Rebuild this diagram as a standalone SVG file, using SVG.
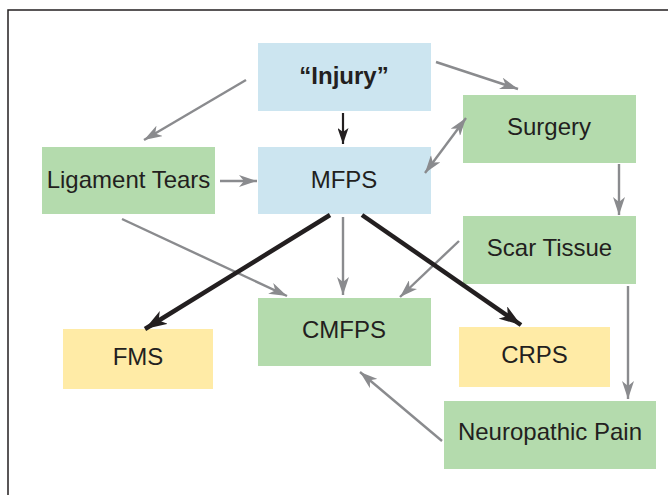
<svg xmlns="http://www.w3.org/2000/svg" width="668" height="495" viewBox="0 0 668 495">
<style>
.blue{fill:#cce5f0}
.green{fill:#b4dbad}
.yellow{fill:#ffeba6}
text{font-family:"Liberation Sans",Arial,sans-serif;font-size:24px;fill:#231f20;text-anchor:middle}
.g{stroke:#8a8b8e;stroke-width:2.4;fill:none}
.k{stroke:#231f20;stroke-width:2.2;fill:none}
.kk{stroke:#231f20;stroke-width:4.5;fill:none}
</style>
<defs>
<marker id="ag" viewBox="0 0 18 12" refX="18" refY="6" markerWidth="18" markerHeight="12" markerUnits="userSpaceOnUse" orient="auto-start-reverse">
<path d="M0,0 L18,6 L0,12 L5,6 Z" fill="#8a8b8e"/>
</marker>
<marker id="ak" viewBox="0 0 16 11" refX="16" refY="5.5" markerWidth="16" markerHeight="11" markerUnits="userSpaceOnUse" orient="auto">
<path d="M0,0 L16,5.5 L0,11 L4,5.5 Z" fill="#231f20"/>
</marker>
<marker id="akk" viewBox="0 0 22 15" refX="22" refY="7.5" markerWidth="22" markerHeight="15" markerUnits="userSpaceOnUse" orient="auto">
<path d="M0,0 L22,7.5 L0,15 L6,7.5 Z" fill="#231f20"/>
</marker>
</defs>
<rect x="8" y="10" width="700" height="520" fill="none" stroke="#231f20" stroke-width="1.5"/>
<g id="injury"><rect class="blue" x="258" y="43" width="173" height="68"/><text x="344" y="84" font-weight="bold">“Injury”</text></g>
<g id="surgery"><rect class="green" x="463" y="95" width="173" height="68"/><text x="549" y="135">Surgery</text></g>
<g id="ligament"><rect class="green" x="42" y="147" width="173" height="67"/><text x="128.5" y="188">Ligament Tears</text></g>
<g id="mfps"><rect class="blue" x="258" y="147" width="173" height="67"/><text x="344" y="188">MFPS</text></g>
<g id="scar"><rect class="green" x="463" y="216" width="173" height="68"/><text x="549.5" y="256">Scar Tissue</text></g>
<g id="cmfps"><rect class="green" x="258" y="298" width="173" height="68"/><text x="344" y="338">CMFPS</text></g>
<g id="fms"><rect class="yellow" x="63" y="329" width="150" height="60"/><text x="138" y="365">FMS</text></g>
<g id="crps"><rect class="yellow" x="459" y="327" width="151" height="60"/><text x="534.5" y="363">CRPS</text></g>
<g id="neuropathic"><rect class="green" x="444" y="401" width="212" height="68"/><text x="550" y="440">Neuropathic Pain</text></g>
<g id="connectors">
<line class="g" x1="246" y1="80" x2="144" y2="140" marker-end="url(#ag)"/>
<line class="g" x1="436" y1="62" x2="518" y2="89" marker-end="url(#ag)"/>
<line class="k" x1="343" y1="113" x2="343" y2="144" marker-end="url(#ak)"/>
<line class="g" x1="220" y1="181" x2="257" y2="181" marker-end="url(#ag)"/>
<line class="g" x1="425" y1="173" x2="466" y2="118" marker-start="url(#ag)" marker-end="url(#ag)"/>
<line class="g" x1="619" y1="164" x2="619" y2="215" marker-end="url(#ag)"/>
<line class="g" x1="628" y1="286" x2="628" y2="399" marker-end="url(#ag)"/>
<line class="g" x1="459" y1="241" x2="400" y2="297" marker-end="url(#ag)"/>
<line class="g" x1="122" y1="219" x2="287" y2="296" marker-end="url(#ag)"/>
<line class="g" x1="343" y1="217" x2="343" y2="295" marker-end="url(#ag)"/>
<line class="g" x1="442" y1="441" x2="360" y2="372" marker-end="url(#ag)"/>
<line class="kk" x1="330" y1="215" x2="145" y2="329" marker-end="url(#akk)"/>
<line class="kk" x1="362" y1="215" x2="521" y2="325" marker-end="url(#akk)"/>
</g>
</svg>
